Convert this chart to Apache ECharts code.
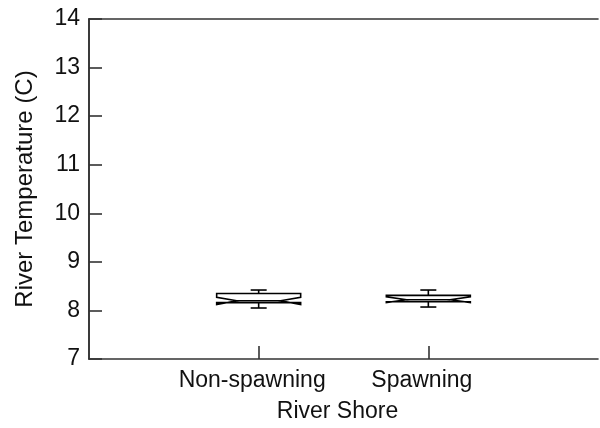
<!DOCTYPE html>
<html>
<head>
<meta charset="utf-8">
<script src="https://cdn.jsdelivr.net/npm/echarts@6/dist/echarts.min.js"></script>
<style>
html,body{margin:0;padding:0;background:#fff;}
#chart{width:600px;height:428px;}
</style>
</head>
<body>
<div id="chart"></div>
<script>
var categories = ['Non-spawning', 'Spawning'];
var categoryPos = [1, 2];
var whiskerLow = [8.05, 8.07];
var q1 = [8.16, 8.18];
var median = [8.20, 8.22];
var q3 = [8.35, 8.31];
var whiskerHigh = [8.42, 8.42];
var notchLow = [8.12, 8.16];
var notchHigh = [8.27, 8.28];
var yTicks = [7, 8, 9, 10, 11, 12, 13, 14];

var data = categories.map(function (c, i) {
  return [categoryPos[i], whiskerLow[i], q1[i], median[i], q3[i], whiskerHigh[i], notchLow[i], notchHigh[i]];
});

var chart = echarts.init(document.getElementById('chart'), null, {renderer: 'canvas'});
var font = 'Liberation Sans, Arial, sans-serif';
var fs = 23;
var lineCol = '#333';

function renderItem(params, api) {
  var x = api.value(0);
  var p = function (v) { return api.coord([x, v]); };
  var cx = p(0)[0];
  var half = 42, indent = 20, cap = 8;
  var yLo = p(api.value(1))[1], yQ1 = p(api.value(2))[1], yMed = p(api.value(3))[1];
  var yQ3 = p(api.value(4))[1], yHi = p(api.value(5))[1];
  var yNL = p(api.value(6))[1], yNH = p(api.value(7))[1];
  var L = cx - half, R = cx + half;
  var style = {stroke: '#000', lineWidth: 1.6, fill: '#fff'};
  var lineStyle = {stroke: '#000', lineWidth: 1.6};
  return {
    type: 'group',
    children: [
      {type: 'line', shape: {x1: cx, y1: yQ3, x2: cx, y2: yHi}, style: lineStyle},
      {type: 'line', shape: {x1: cx - cap, y1: yHi, x2: cx + cap, y2: yHi}, style: lineStyle},
      {type: 'line', shape: {x1: cx, y1: yQ1, x2: cx, y2: yLo}, style: lineStyle},
      {type: 'line', shape: {x1: cx - cap, y1: yLo, x2: cx + cap, y2: yLo}, style: lineStyle},
      {type: 'polygon', shape: {points: [
        [L, yQ3], [L, yNH], [L + indent, yMed], [L, yNL], [L, yQ1],
        [R, yQ1], [R, yNL], [R - indent, yMed], [R, yNH], [R, yQ3]
      ]}, style: style},
      {type: 'line', shape: {x1: L + indent, y1: yMed, x2: R - indent, y2: yMed}, style: lineStyle}
    ]
  };
}

var option = {
  backgroundColor: '#fff',
  animation: false,
  grid: {left: 89, right: 2, top: 19, bottom: 68},
  xAxis: [{
    type: 'value', min: 0, max: 3, interval: 1,
    name: 'River Shore', nameLocation: 'middle', nameGap: 41,
    nameTextStyle: {fontFamily: font, fontSize: fs, color: '#111', padding: [0, 12, 0, 0]},
    axisLine: {show: true, lineStyle: {color: lineCol, width: 1.6}},
    axisTick: {show: true, inside: true, length: 13, customValues: categoryPos, lineStyle: {color: lineCol, width: 1.6}},
    splitLine: {show: false},
    axisLabel: {
      fontFamily: font, fontSize: fs, color: '#111', margin: 10,
      padding: [0, 13, 0, 0],
      customValues: categoryPos,
      formatter: function (v) {
        var i = categoryPos.indexOf(v);
        return i >= 0 ? categories[i] : '';
      }
    }
  }, {
    type: 'value', min: 0, max: 3, position: 'top',
    axisLine: {show: true, lineStyle: {color: lineCol, width: 1.6}},
    axisTick: {show: false}, axisLabel: {show: false}, splitLine: {show: false}
  }],
  yAxis: [{
    type: 'value', min: 7, max: 14, interval: 1,
    name: 'River Temperature (C)', nameLocation: 'middle', nameGap: 52,
    nameTextStyle: {fontFamily: font, fontSize: 24, color: '#111'},
    axisLine: {show: true, lineStyle: {color: lineCol, width: 1.6}},
    axisTick: {show: true, inside: true, length: 13, lineStyle: {color: lineCol, width: 1.6}},
    splitLine: {show: false},
    axisLabel: {
      fontFamily: font, fontSize: fs, color: '#111', margin: 9,
      formatter: function (v) { return yTicks.indexOf(v) >= 0 ? String(v) : ''; }
    }
  }, {
    type: 'value', min: 7, max: 14, position: 'right',
    axisLine: {show: true, lineStyle: {color: lineCol, width: 1.6}},
    axisTick: {show: false}, axisLabel: {show: false}, splitLine: {show: false}
  }],
  series: [{
    type: 'custom',
    renderItem: renderItem,
    data: data,
    encode: {x: 0, y: [1, 2, 3, 4, 5]},
    clip: false
  }]
};
chart.setOption(option);
</script>
</body>
</html>
